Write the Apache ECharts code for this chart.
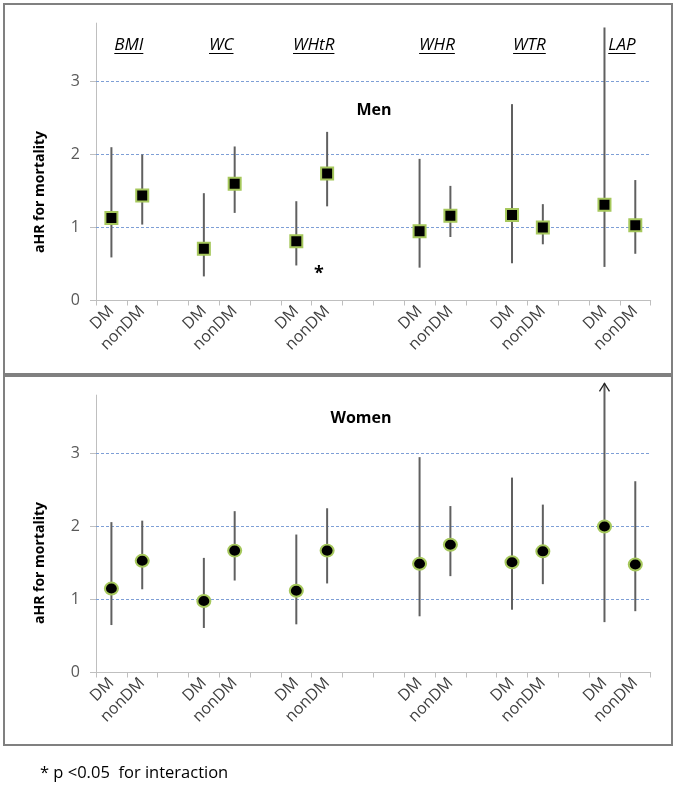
<!DOCTYPE html>
<html><head><meta charset="utf-8">
<script src="https://cdn.jsdelivr.net/npm/echarts@6/dist/echarts.min.js"></script>
<style>html,body{margin:0;padding:0;background:#fff}#c{width:675px;height:787px}</style>
</head><body><div id="c"></div>
<script>
// ---- data ----
const categories = ['DM','nonDM','','DM','nonDM','','DM','nonDM','','','DM','nonDM','','DM','nonDM','','DM','nonDM'];
const groupLabels = ['BMI','WC','WHtR','WHR','WTR','LAP'];
const groupStart = [0,3,6,10,13,16];
const yTicks = [0,1,2,3];
const gridValues = [1,2,3];
const yMax = 3.8;

const menHR   = [1.13,1.44,null,0.71,1.60,null,0.81,1.74,null,null,0.95,1.16,null,1.17,1.00,null,1.31,1.03];
const menLow  = [0.59,1.04,null,0.33,1.20,null,0.48,1.29,null,null,0.45,0.87,null,0.51,0.77,null,0.46,0.64];
const menHigh = [2.10,2.00,null,1.47,2.11,null,1.36,2.31,null,null,1.94,1.57,null,2.69,1.32,null,3.74,1.65];

const womenHR   = [1.15,1.53,null,0.98,1.67,null,1.12,1.67,null,null,1.49,1.75,null,1.51,1.66,null,2.00,1.48];
const womenLow  = [0.65,1.14,null,0.61,1.26,null,0.66,1.22,null,null,0.77,1.32,null,0.86,1.21,null,0.69,0.84];
const womenHigh = [2.06,2.08,null,1.57,2.21,null,1.89,2.25,null,null,2.95,2.28,null,2.67,2.30,null,3.96,2.62];

const FONT = '"Open Sans", Lato, sans-serif';

function errData(lo, hi){
  const out = [];
  lo.forEach((v,i)=>{ if (v!=null) out.push([i, v, hi[i]]); });
  return out;
}
function errRender(params, api){
  const x = api.value(0), lo = api.value(1), hi = api.value(2);
  const p1 = api.coord([x, lo]), p2 = api.coord([x, hi]);
  const children = [{type:'line', shape:{x1:p1[0],y1:p1[1],x2:p2[0],y2:p2[1]},
    style:{stroke:'#606060', lineWidth:2}}];
  if (hi > yMax) {
    children.push({type:'polyline', shape:{points:[[p2[0]-5,p2[1]+8],[p2[0],p2[1]],[p2[0]+5,p2[1]+8]]},
      style:{stroke:'#222', lineWidth:1.3, fill:null}});
  }
  return {type:'group', children};
}

function xAxis(gi){
  return {type:'category', gridIndex:gi, data:categories, boundaryGap:true,
    axisLine:{lineStyle:{color:'#bfbfbf', width:1}},
    axisTick:{show:true, interval:0, length:5, lineStyle:{color:'#bfbfbf'}},
    axisLabel:{interval:0, rotate:45, margin:8, fontSize:16, color:'#404040', fontFamily:FONT},
    splitLine:{show:false}};
}
function yAxis(gi){
  return {type:'value', gridIndex:gi, min:0, max:yMax, interval:1,
    axisLine:{show:true, lineStyle:{color:'#bfbfbf', width:1}},
    axisTick:{show:true, length:6, customValues:yTicks, lineStyle:{color:'#bfbfbf'}},
    axisLabel:{customValues:yTicks, margin:16, fontSize:16, color:'#595959', fontFamily:FONT},
    splitLine:{show:false}};
}
function seriesFor(gi, hr, lo, hi, symbol, size){
  return [
    {type:'custom', xAxisIndex:gi, yAxisIndex:gi, renderItem:errRender, data:errData(lo,hi),
     encode:{x:0, y:[1,2]}, z:2, clip:false,
     markLine:{silent:true, z:1, symbol:'none', label:{show:false},
       lineStyle:{color:'#7E9FD6', type:[3,2], width:1},
       data: gridValues.map(v=>({yAxis:v}))}},
    {type:'scatter', xAxisIndex:gi, yAxisIndex:gi, data:hr, symbol:symbol, symbolSize:size, z:3,
     itemStyle:{color:'#000', borderColor:'#A6C85C', borderWidth:2, opacity:1}}
  ];
}

const chart = echarts.init(document.getElementById('c'), null, {renderer:'canvas'});
const option = {
  animation:false,
  backgroundColor:'#fff',
  grid:[
    {left:96, top:23.1, width:554.7, height:277.4, containLabel:false},
    {left:96, top:395.1, width:554.7, height:277.4, containLabel:false}
  ],
  xAxis:[xAxis(0), xAxis(1)],
  yAxis:[yAxis(0), yAxis(1)],
  series:[
    ...seriesFor(0, menHR, menLow, menHigh, 'rect', 12),
    ...seriesFor(1, womenHR, womenLow, womenHigh, 'circle', [13,12])
  ]
};
chart.setOption(option);

// annotations
const ctx = document.createElement('canvas').getContext('2d');
ctx.font = 'italic 17px ' + FONT;
const graphics = [
  {type:'rect', shape:{x:4,y:4,width:668,height:370}, style:{fill:null, stroke:'#808080', lineWidth:2}, z:0},
  {type:'rect', shape:{x:4,y:376,width:668,height:369}, style:{fill:null, stroke:'#808080', lineWidth:2}, z:0},
  {type:'text', x:374, y:110, style:{text:'Men', font:'bold 16px '+FONT, fill:'#000', align:'center', verticalAlign:'middle'}},
  {type:'text', x:361, y:418, style:{text:'Women', font:'bold 16px '+FONT, fill:'#000', align:'center', verticalAlign:'middle'}},
  {type:'text', x:319, y:274, style:{text:'*', font:'bold 18px '+FONT, fill:'#000', align:'center', verticalAlign:'middle'}},
  {type:'text', x:40, y:192, rotation:Math.PI/2, style:{text:'aHR for mortality', font:'bold 14px '+FONT, fill:'#000', align:'center', verticalAlign:'middle'}},
  {type:'text', x:40, y:563, rotation:Math.PI/2, style:{text:'aHR for mortality', font:'bold 14px '+FONT, fill:'#000', align:'center', verticalAlign:'middle'}},
  {type:'text', x:40, y:773, style:{text:'* p <0.05  for interaction', font:'16.5px '+FONT, fill:'#000', align:'left', verticalAlign:'middle'}}
];
groupLabels.forEach((lab,k)=>{
  const a = chart.convertToPixel({xAxisIndex:0}, groupStart[k]);
  const b = chart.convertToPixel({xAxisIndex:0}, groupStart[k]+1);
  const cx = (a+b)/2 + 2;
  const w = ctx.measureText(lab).width;
  graphics.push({type:'text', x:cx, y:45, style:{text:lab, font:'italic 17px '+FONT, fill:'#000', align:'center', verticalAlign:'middle'}});
  graphics.push({type:'line', shape:{x1:cx-w/2, y1:53.5, x2:cx+w/2, y2:53.5}, style:{stroke:'#000', lineWidth:1}});
});
chart.setOption({graphic:graphics});
</script></body></html>
